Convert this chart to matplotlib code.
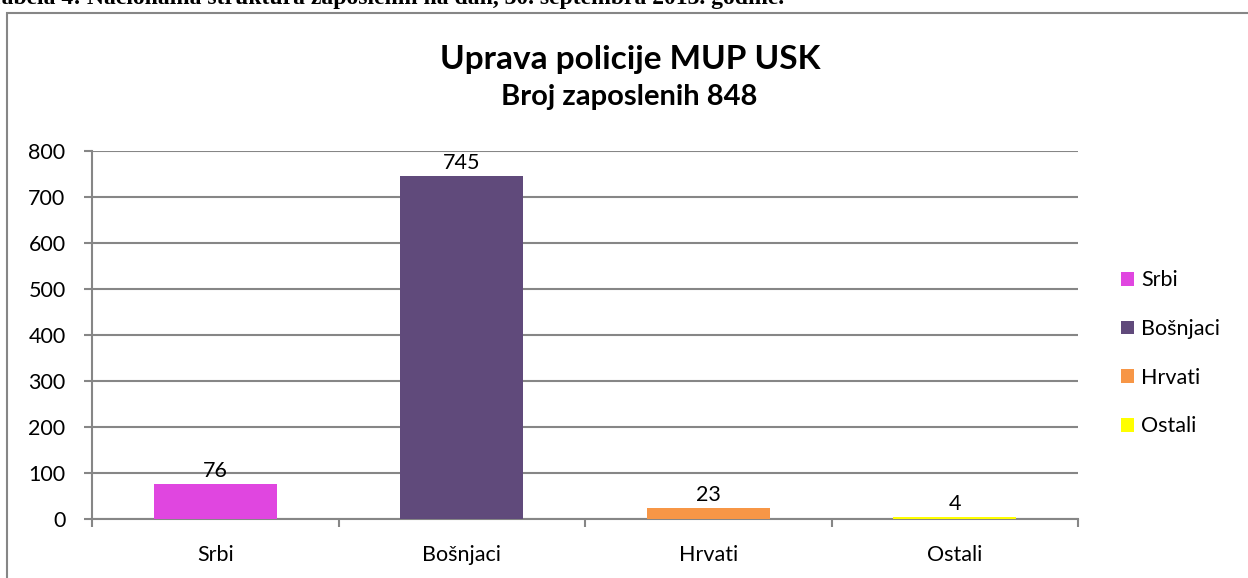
import numpy as np
import matplotlib
matplotlib.use("Agg")
import matplotlib.pyplot as plt
from matplotlib.patches import Rectangle

categories = ["Srbi", "Bošnjaci", "Hrvati", "Ostali"]
values = [76, 745, 23, 4]
colors = ["#E046E0", "#604A7B", "#F79646", "#FFFF00"]
yticks = [0, 100, 200, 300, 400, 500, 600, 700, 800]
title = "Uprava policije MUP USK"
subtitle = "Broj zaposlenih 848"
header = "Tabela 4: Nacionalna struktura zaposlenih na dan, 30. septembra 2013. godine."

plt.rcParams['font.family'] = ['Lato', 'DejaVu Sans']
grey = "#868686"
fs = 15.5

fig = plt.figure(figsize=(12.48, 5.78), dpi=100)
W, H = 1248, 578

# header line of the page, cut by the top edge
fig.text(-0.01, 1 - 4 / H, header, family="Liberation Serif", weight="bold",
         fontsize=17, ha="left", va="baseline")

# chart frame (only left and top edges visible)
fig.patches.append(Rectangle((7 / W, -0.1), 1.2, 1 - 13 / H + 0.1,
                             transform=fig.transFigure, fill=False,
                             edgecolor=grey, linewidth=1.5))

ax = fig.add_axes([92 / W, 1 - 519 / H, (1078 - 92) / W, (519 - 151) / H])
x = np.arange(len(categories))
bars = ax.bar(x, values, width=0.5, color=colors, label=categories, zorder=3)

for b, v in zip(bars, values):
    ax.annotate(str(v), (b.get_x() + b.get_width() / 2, v), xytext=(0, 5),
                textcoords="offset points", ha="center", va="baseline",
                fontsize=fs)

ax.set_xlim(-0.5, len(categories) - 0.5)
ax.set_ylim(0, 800)
ax.set_yticks(yticks)
ax.yaxis.grid(True, color=grey, linewidth=1.5, zorder=0)
ax.set_axisbelow(True)

ax.set_xticks(x)
ax.set_xticklabels(categories, fontsize=fs)
ax.set_xticks(np.arange(len(categories) + 1) - 0.5, minor=True)
ax.tick_params(axis="x", which="major", length=0, pad=19)
ax.tick_params(axis="x", which="minor", length=6, width=1.5, color=grey,
               direction="out")
ax.tick_params(axis="y", labelsize=fs, length=6, width=1.5, color=grey,
               direction="out", pad=13)

for s in ["top", "right"]:
    ax.spines[s].set_visible(False)
for s in ["left", "bottom"]:
    ax.spines[s].set_color(grey)
    ax.spines[s].set_linewidth(1.5)

fig.text(630 / W, 1 - 69 / H, title, fontsize=24, weight="bold",
         ha="center", va="baseline")
fig.text(629 / W, 1 - 105 / H, subtitle, fontsize=21, weight="bold",
         ha="center", va="baseline")

ax.legend(loc="center left", bbox_to_anchor=(1.024, 0.45), frameon=False,
          fontsize=fs, handlelength=0.6, handleheight=0.6,
          handletextpad=0.35, labelspacing=1.33)

fig.savefig("out.png", dpi=100)
